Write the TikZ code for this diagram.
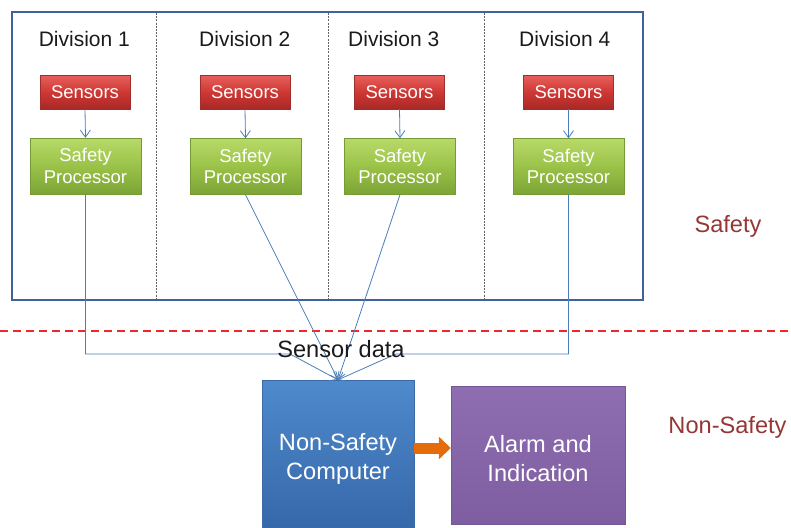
\documentclass[tikz,border=0pt]{standalone}
\usepackage{fontspec}
\setmainfont{Liberation Sans}
\usetikzlibrary{arrows.meta,positioning}
\definecolor{frameblue}{HTML}{3F6297}
\definecolor{linkblue}{HTML}{4A7EBB}
\definecolor{labred}{HTML}{953735}
\definecolor{dashred}{HTML}{F0282A}
\definecolor{arrorange}{HTML}{E46C0A}
\tikzset{
  sensbox/.style={rectangle, inner sep=0pt, minimum width=90pt, minimum height=34pt,
    top color={rgb,255:red,232;green,96;blue,92}, bottom color={rgb,255:red,168;green,40;blue,38},
    middle color={rgb,255:red,206;green,56;blue,52},
    draw={rgb,255:red,160;green,46;blue,44}, line width=0.4pt,
    text=white, font=\fontsize{18.5}{21.5}\selectfont},
  procbox/.style={rectangle, inner sep=0pt, minimum width=111pt, minimum height=56pt,
    top color={rgb,255:red,184;green,218;blue,104}, bottom color={rgb,255:red,124;green,164;blue,54},
    middle color={rgb,255:red,154;green,194;blue,72},
    draw={rgb,255:red,118;green,154;blue,54}, line width=0.4pt,
    text=white, align=center, font=\fontsize{18.5}{21.5}\selectfont},
  compbox/.style={rectangle, inner sep=0pt, minimum width=152pt, minimum height=147pt,
    top color={rgb,255:red,78;green,138;blue,204}, bottom color={rgb,255:red,54;green,104;blue,170},
    draw={rgb,255:red,60;green,106;blue,166}, line width=0.4pt},
  alarmbox/.style={rectangle, inner sep=0pt, minimum width=174pt, minimum height=138pt,
    top color={rgb,255:red,142;green,110;blue,176}, bottom color={rgb,255:red,126;green,94;blue,160},
    draw={rgb,255:red,116;green,88;blue,150}, line width=0.4pt},
  boxtext/.style={text=white, align=center, inner sep=0pt, font=\fontsize{23.6}{29}\selectfont},
  divlabel/.style={anchor=base, text={rgb,255:red,26;green,26;blue,26}, font=\fontsize{21}{24}\selectfont},
  zonelabel/.style={anchor=base, text=labred, font=\fontsize{23.6}{28}\selectfont},
  link/.style={draw=linkblue, line width=0.8pt},
  linkarrow/.style={link, -{Straight Barb[length=7pt,width=10pt]}},
  divider/.style={draw={rgb,255:red,100;green,100;blue,100}, line width=1pt, dash pattern=on 2pt off 1.2pt},
}
\begin{document}
\begin{tikzpicture}[x=1pt,y=-1pt]
\useasboundingbox (0,0) rectangle (791,527);
% outer frame
\node[draw=frameblue, line width=2pt, inner sep=0pt, minimum width=631pt, minimum height=288pt] (frame) at (327.5,156) {};
% dividers
\coordinate (d1t) at (156,13); \coordinate (d1b) at (156,299);
\coordinate (d2t) at (328,13); \coordinate (d2b) at (328,299);
\coordinate (d3t) at (484,13); \coordinate (d3b) at (484,299);
\draw[divider] (d1t) -- (d1b);
\draw[divider] (d2t) -- (d2b);
\draw[divider] (d3t) -- (d3b);
% division labels
\node[divlabel] (l1) at (84.3,46) {Division 1};
\node[divlabel] (l2) at (244.7,46) {Division 2};
\node[divlabel] (l3) at (393.7,46) {Division 3};
\node[divlabel] (l4) at (564.7,46) {Division 4};
% sensors
\node[sensbox] (s1) at (85,92) {Sensors};
\node[sensbox] (s2) at (245,92) {Sensors};
\node[sensbox] (s3) at (399.5,92) {Sensors};
\node[sensbox] (s4) at (568.5,92) {Sensors};
% processors
\node[procbox] (p1) at (85.5,166) {Safety\\Processor};
\node[procbox] (p2) at (245.5,166.5) {Safety\\Processor};
\node[procbox] (p3) at (400,166.5) {Safety\\Processor};
\node[procbox] (p4) at (568.5,166.5) {Safety\\Processor};
\foreach \i in {1,2,3,4} {\draw[linkarrow] (s\i.south) -- (p\i.north);}
% safety line
\coordinate (dl) at (0,331); \coordinate (dr) at (791,331);
\draw[dashred, line width=1.3pt, dash pattern=on 8pt off 5pt] (dl) -- (dr);
% zone labels
\node[zonelabel] (zs) at (728,232) {Safety};
\node[zonelabel] (zn) at (727.5,433) {Non-Safety};
% bottom boxes
\node[compbox] (comp) at (338,453.5) {};
\node[boxtext] (compt) at (338,458.5) {Non-Safety\\Computer};
\node[alarmbox] (alarm) at (538,455) {};
\node[boxtext] (alarmt) at (538,458.5) {Alarm and\\Indication};
% sensor data connectors
\coordinate (k1) at (290,354);
\coordinate (k4) at (396,354);
\draw[linkarrow] (p1.south) |- (k1) -- (comp.north);
\draw[linkarrow] (p4.south) |- (k4) -- (comp.north);
\draw[linkarrow] (p2.south) -- (comp.north);
\draw[linkarrow] (p3.south) -- (comp.north);
\node[anchor=base, text={rgb,255:red,26;green,26;blue,26}, font=\fontsize{23.6}{28}\selectfont] (sd) at (341,357) {Sensor data};
% orange arrow
\draw[arrorange, line width=11pt, -{Triangle[length=12pt,width=22pt]}] ([yshift=5.5pt]comp.east) -- ([yshift=7pt]alarm.west);
\end{tikzpicture}
\end{document}
